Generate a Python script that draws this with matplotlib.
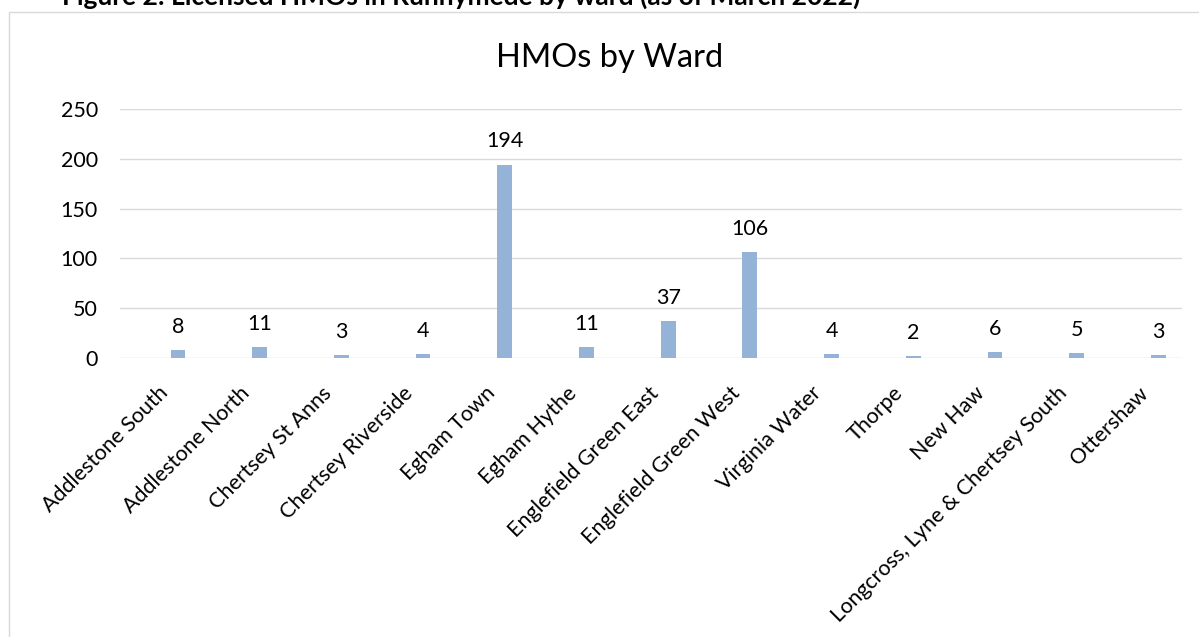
import matplotlib
matplotlib.use("Agg")
import matplotlib.pyplot as plt
from matplotlib.patches import Rectangle
import numpy as np

wards = [
    "Addlestone South", "Addlestone North", "Chertsey St Anns",
    "Chertsey Riverside", "Egham Town", "Egham Hythe",
    "Englefield Green East", "Englefield Green West", "Virginia Water",
    "Thorpe", "New Haw", "Longcross, Lyne & Chertsey South", "Ottershaw",
]
hmos = [8, 11, 3, 4, 194, 11, 37, 106, 4, 2, 6, 5, 3]
y_ticks = [0, 50, 100, 150, 200, 250]

caption = "Figure 2: Licensed HMOs in Runnymede by ward (as of March 2022)"
title = "HMOs by Ward"

FONT = "Lato"
BAR = "#95B3D7"
GRID = "#D9D9D9"

W, H, DPI = 1199, 637, 100
fig = plt.figure(figsize=(W / DPI, H / DPI), dpi=DPI)
fig.patch.set_facecolor("white")

def fx(px):
    return px / W

def fy(px):
    return 1 - px / H

# chart frame (runs off the right and bottom edges)
fig.patches.append(Rectangle((fx(8.5), fy(1000)), fx(1400), fy(11.5) - fy(1000),
                             transform=fig.transFigure, fill=False,
                             edgecolor=GRID, linewidth=1.0))

# document caption, partly cut off by the top edge
fig.text(fx(62), fy(5), caption, fontfamily=FONT, fontweight="bold",
         fontsize=19, ha="left", va="baseline", color="black")

fig.text(fx(610), fy(67), title, fontfamily=FONT, fontsize=23.5,
         ha="center", va="baseline", color="black")

left, right, top, bottom = 120, 1182, 109, 358
ax = fig.add_axes([fx(left), fy(bottom), fx(right - left), fy(top) - fy(bottom)])

x = np.arange(len(wards))
bar_shift = 0.21
ax.bar(x + bar_shift, hmos, width=0.18, color=BAR, zorder=3)

for xi, v in zip(x, hmos):
    ax.annotate(str(v), (xi + bar_shift, v), xytext=(0, 12.5),
                textcoords="offset points", ha="center", va="baseline",
                fontfamily=FONT, fontsize=15.5, color="black", zorder=4)

ax.set_xlim(-0.5, len(wards) - 0.5)
ax.set_ylim(0, 250)
ax.set_yticks(y_ticks)
ax.set_yticklabels([str(t) for t in y_ticks], fontfamily=FONT, fontsize=15.5)
ax.set_xticks(x + 0.05)
ax.set_xticklabels(wards, fontfamily=FONT, fontsize=15.5, rotation=45,
                   ha="right", va="center", rotation_mode="anchor")

ax.tick_params(axis="x", length=0, pad=23, colors="black")
ax.tick_params(axis="y", length=0, pad=16, colors="black")
ax.grid(axis="y", color=GRID, linewidth=1.0, zorder=0)
ax.set_axisbelow(True)
for s in ax.spines.values():
    s.set_visible(False)
ax.set_facecolor("none")

fig.savefig("out.png", dpi=DPI)
